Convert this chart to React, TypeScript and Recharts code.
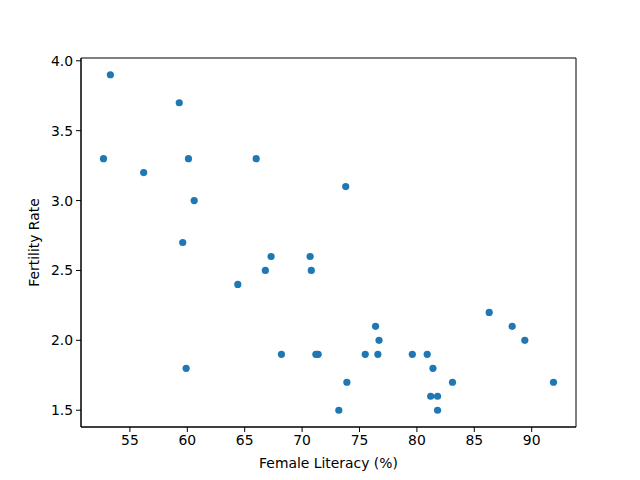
import { ScatterChart, Scatter, XAxis, YAxis, ReferenceArea } from "recharts"

const literacy = [
  53.3, 52.7, 56.2, 59.3, 60.1, 59.6, 60.6, 59.9, 64.4, 66.0, 66.8, 67.3,
  68.2, 70.7, 70.8, 71.2, 71.4, 73.8, 73.2, 73.9, 75.5, 76.4, 76.7, 76.6,
  79.6, 80.9, 81.4, 81.2, 81.8, 81.8, 83.1, 86.3, 88.3, 89.4, 91.9,
]
const fertility = [
  3.9, 3.3, 3.2, 3.7, 3.3, 2.7, 3.0, 1.8, 2.4, 3.3, 2.5, 2.6,
  1.9, 2.6, 2.5, 1.9, 1.9, 3.1, 1.5, 1.7, 1.9, 2.1, 2.0, 1.9,
  1.9, 1.9, 1.8, 1.6, 1.6, 1.5, 1.7, 2.2, 2.1, 2.0, 1.7,
]
const xTicks = [55, 60, 65, 70, 75, 80, 85, 90]
const yTicks = [1.5, 2.0, 2.5, 3.0, 3.5, 4.0]

const xDomain: [number, number] = [50.74, 93.86]
const yDomain: [number, number] = [1.38, 4.02]

const data = literacy.map((x, i) => ({ literacy: x, fertility: fertility[i] }))

const font = "DejaVu Sans, sans-serif"
const tickStyle = { fontSize: 13.9, fill: "#000", fontFamily: font }

export default function App() {
  return (
    <div style={{ width: 640, height: 480 }}>
      <style>{"body{margin:0}"}</style>
      <ScatterChart
        width={640}
        height={480}
        margin={{ top: 58, right: 64, bottom: 0, left: 0 }}
        style={{ background: "#fff" }}
      >
        <XAxis
          type="number"
          dataKey="literacy"
          domain={xDomain}
          ticks={xTicks}
          allowDataOverflow
          height={53}
          tick={tickStyle}
          tickSize={5}
          tickMargin={3}
          axisLine={{ stroke: "#000" }}
          tickLine={{ stroke: "#000" }}
          label={{
            value: "Female Literacy (%)",
            position: "insideBottom",
            offset: 12,
            style: { fontSize: 13.9, fill: "#000", fontFamily: font },
          }}
        />
        <YAxis
          type="number"
          dataKey="fertility"
          domain={yDomain}
          ticks={yTicks}
          allowDataOverflow
          width={81}
          tick={tickStyle}
          tickSize={5}
          tickMargin={3}
          tickFormatter={(v: number) => v.toFixed(1)}
          axisLine={{ stroke: "#000" }}
          tickLine={{ stroke: "#000" }}
          label={{
            value: "Fertility Rate",
            angle: -90,
            position: "insideLeft",
            offset: 34,
            style: {
              fontSize: 13.9,
              fill: "#000",
              fontFamily: font,
              textAnchor: "middle",
            },
          }}
        />
        <ReferenceArea
          x1={xDomain[0]}
          x2={xDomain[1]}
          y1={yDomain[0]}
          y2={yDomain[1]}
          fill="none"
          stroke="#000"
          strokeWidth={1}
        />
        <Scatter
          data={data}
          isAnimationActive={false}
          shape={(props: any) => (
            <circle cx={props.cx} cy={props.cy} r={3.6} fill="#1f77b4" />
          )}
        />
      </ScatterChart>
    </div>
  )
}
